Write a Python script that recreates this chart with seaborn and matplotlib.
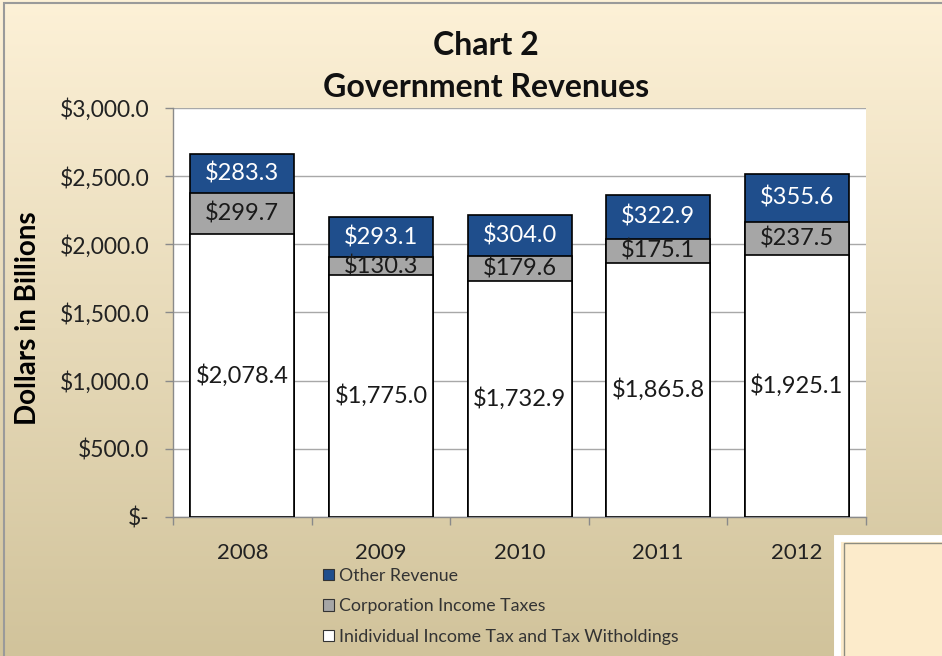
import numpy as np
import pandas as pd
import matplotlib.pyplot as plt
import seaborn as sns
from matplotlib.patches import Patch, Rectangle

# Data (dollars in billions)
years = ['2008', '2009', '2010', '2011', '2012']
individual = [2078.4, 1775.0, 1732.9, 1865.8, 1925.1]
corporation = [299.7, 130.3, 179.6, 175.1, 237.5]
other = [283.3, 293.1, 304.0, 322.9, 355.6]
yticks = [0, 500, 1000, 1500, 2000, 2500, 3000]
ytick_labels = ['$-', '$500.0', '$1,000.0', '$1,500.0', '$2,000.0', '$2,500.0', '$3,000.0']
legend_labels = ['Other Revenue', 'Corporation Income Taxes',
                 'Inidividual Income Tax and Tax Witholdings']

df = pd.DataFrame({'Year': years, 'Individual': individual,
                   'Corporation': corporation, 'Other': other})
df['IndCorp'] = df['Individual'] + df['Corporation']
df['Total'] = df['IndCorp'] + df['Other']

sns.set_style('white')
plt.rcParams['font.family'] = ['Lato', 'DejaVu Sans']

blue = '#1F4E8C'
grey = '#A6A6A6'

fig = plt.figure(figsize=(9.42, 6.56), dpi=100)

# beige gradient background
bg = fig.add_axes([0, 0, 1, 1], zorder=-10)
top = np.array([253, 241, 215]) / 255
bot = np.array([209, 195, 155]) / 255
t = np.linspace(0, 1, 256)[:, None]
grad = top * (1 - t) + bot * t
bg.imshow(grad[:, None, :], aspect='auto', extent=[0, 1, 0, 1])
bg.set_axis_off()
fig.patches.append(Rectangle((0.004, -0.01), 1.1, 1.005, transform=fig.transFigure,
                             fill=False, edgecolor='#9a9a9a', linewidth=1.5))
# piece of another chart peeking in at the bottom right
fig.patches.append(Rectangle((0.889, -0.02), 0.2, 0.2, transform=fig.transFigure,
                             facecolor='#FCEBCB', edgecolor='white', linewidth=5))
fig.patches.append(Rectangle((0.896, -0.02), 0.2, 0.192, transform=fig.transFigure,
                             fill=False, edgecolor='#8c8c80', linewidth=1))

ax = fig.add_axes([0.1837, 0.2119, 0.7357, 0.6235])
ax.set_facecolor('white')

# stacked bars drawn as overlapping cumulative totals
sns.barplot(data=df, x='Year', y='Total', color=blue, saturation=1, width=0.75,
            edgecolor='black', linewidth=1.2, ax=ax, zorder=3)
sns.barplot(data=df, x='Year', y='IndCorp', color=grey, saturation=1, width=0.75,
            edgecolor='black', linewidth=1.2, ax=ax, zorder=3)
sns.barplot(data=df, x='Year', y='Individual', color='white', saturation=1, width=0.75,
            edgecolor='black', linewidth=1.2, ax=ax, zorder=3)

fs = 17
for i, row in df.iterrows():
    ax.text(i, row['Individual'] / 2, f"${row['Individual']:,.1f}", ha='center',
            va='center', fontsize=fs, color='#1a1a1a', zorder=5)
    ax.text(i, row['Individual'] + row['Corporation'] / 2, f"${row['Corporation']:,.1f}",
            ha='center', va='center', fontsize=fs, color='#1a1a1a', zorder=5)
    ax.text(i, row['IndCorp'] + row['Other'] / 2, f"${row['Other']:,.1f}",
            ha='center', va='center', fontsize=fs, color='white', zorder=5)

ax.set_xlim(-0.5, 4.5)
ax.set_ylim(0, 3000)
ax.set_yticks(yticks)
ax.set_yticklabels(ytick_labels)
ax.yaxis.grid(True, color='#a8a8a8', linewidth=1, zorder=0)
ax.set_axisbelow(True)
ax.set_xlabel('')
ax.set_ylabel('')

# category ticks sit between the bars, like Excel
ax.set_xticks(np.arange(-0.5, 5, 1), minor=True)
ax.tick_params(axis='x', which='major', length=0, pad=19, labelsize=16, labelcolor='#222222')
ax.tick_params(axis='x', which='minor', length=6, width=1, color='#8a8a8a', direction='out',
               bottom=True)
ax.tick_params(axis='y', length=6, width=1, color='#8a8a8a', direction='out', left=True,
               pad=11, labelsize=16.5, labelcolor='#222222')

for side in ['top', 'right']:
    ax.spines[side].set_visible(False)
for side in ['left', 'bottom']:
    ax.spines[side].set_color('#8a8a8a')
    ax.spines[side].set_linewidth(1)

fig.text(0.03, 0.515, 'Dollars in Billions', rotation=90, ha='center', va='center',
         fontsize=20, fontweight='bold', color='black')
fig.text(0.516, 0.931, 'Chart 2', ha='center', va='center', fontsize=23,
         fontweight='bold', color='#111111')
fig.text(0.516, 0.866, 'Government Revenues', ha='center', va='center', fontsize=23,
         fontweight='bold', color='#111111')

handles = [Patch(facecolor=blue, edgecolor='#333333', linewidth=0.8),
           Patch(facecolor=grey, edgecolor='#333333', linewidth=0.8),
           Patch(facecolor='white', edgecolor='#333333', linewidth=0.8)]
fig.legend(handles, legend_labels, loc='upper left', bbox_to_anchor=(0.343, 0.134),
           frameon=False, fontsize=12.8, handlelength=0.6, handleheight=0.6,
           handletextpad=0.3, labelspacing=0.8, borderpad=0, borderaxespad=0,
           labelcolor='#333333')

fig.savefig('out.png', dpi=100)
